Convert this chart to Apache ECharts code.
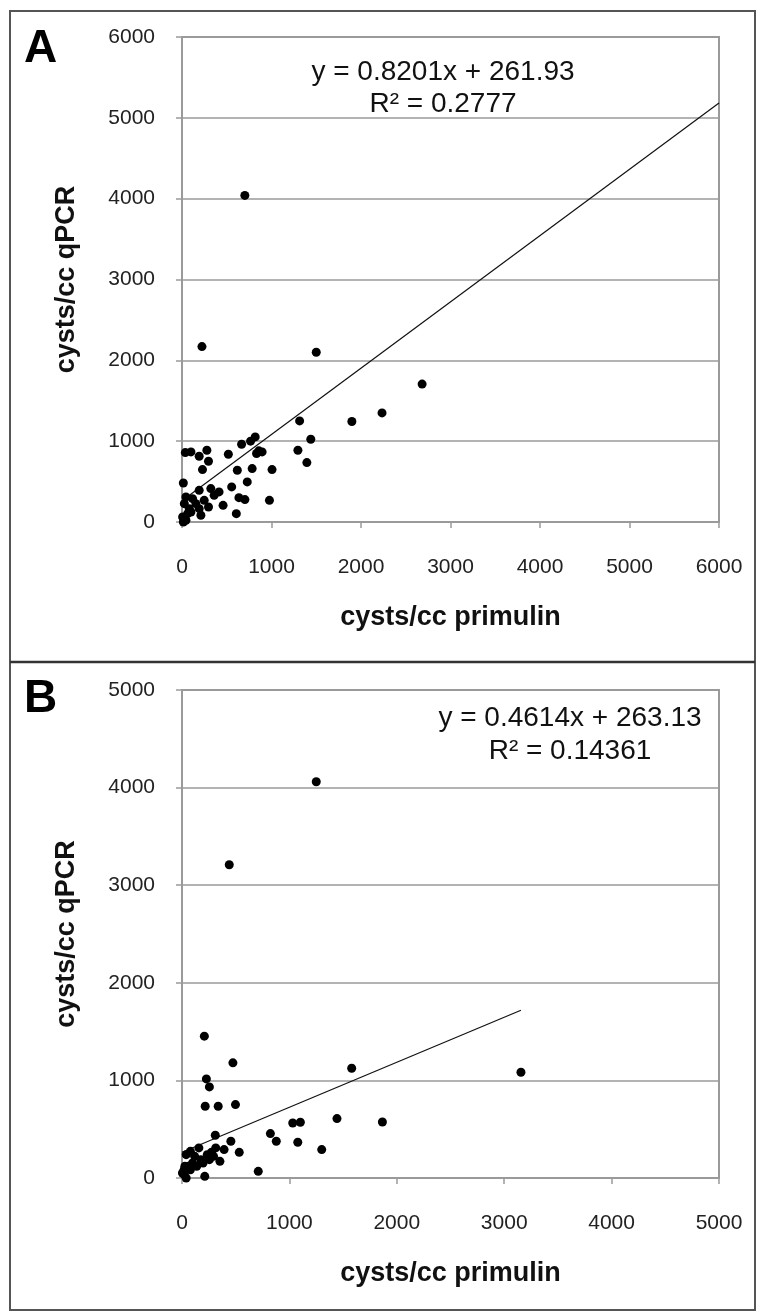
<!DOCTYPE html>
<html>
<head>
<meta charset="utf-8">
<script src="https://cdn.jsdelivr.net/npm/echarts@6/dist/echarts.min.js"></script>
<style>
html,body{margin:0;padding:0;background:#fff;}
#c{width:760px;height:1314px;}
</style>
</head>
<body>
<div id="c"></div>
<script>
// Panel A data (cysts/cc primulin, cysts/cc qPCR)
const panelA_x = [2683,2235,1898,1314,1439,1295,1395,1006,977,818,766,666,858,895,833,518,278,192,296,100,37,229,618,784,729,555,636,703,607,15,192,322,414,359,459,296,211,248,118,44,26,81,155,7,44,100,192,15,63,702,223,1500];
const panelA_y = [1706,1350,1243,1251,1024,888,735,648,268,1053,1000,962,880,867,847,838,888,814,752,867,859,648,640,661,496,434,301,277,103,483,392,413,372,330,206,186,83,268,289,310,227,165,227,62,21,124,165,0,103,4040,2170,2100];
// Panel B data
const panelB_x = [208,474,1580,3156,227,255,216,337,498,1443,1031,1102,1866,823,878,1078,1301,710,310,455,533,392,353,212,39,78,157,118,176,235,274,314,255,294,98,59,20,20,39,78,137,196,4,27,1250,440];
const panelB_y = [1453,1180,1125,1084,1015,933,735,735,752,609,564,571,574,455,376,366,291,68,438,376,263,291,171,17,239,273,308,222,188,239,263,308,188,222,154,120,85,34,0,85,120,154,51,120,4060,3210];
// Trend-line equations and labels
const trendA = {slope: 0.8201, intercept: 261.93, xStart: 0, xEnd: 6000};
const trendB = {slope: 0.4614, intercept: 263.13, xStart: 0, xEnd: 3156};
const eqA = ['y = 0.8201x + 261.93', 'R² = 0.2777'];
const eqB = ['y = 0.4614x + 263.13', 'R² = 0.14361'];
const axisA = {max: 6000, interval: 1000};
const axisB = {max: 5000, interval: 1000};
const xTitle = 'cysts/cc primulin';
const yTitle = 'cysts/cc qPCR';
const panelLabels = ['A', 'B'];

const pts = (xs, ys) => xs.map((v, i) => [v, ys[i]]);
const trend = t => [[t.xStart, t.slope * t.xStart + t.intercept], [t.xEnd, t.slope * t.xEnd + t.intercept]];

const FONT = 'Liberation Sans, Arial, sans-serif';
const GRAY = '#9a9a9a';

function xAx(idx, ax) {
  return {
    gridIndex: idx, type: 'value', min: 0, max: ax.max, interval: ax.interval,
    name: xTitle, nameLocation: 'middle', nameGap: 82,
    nameTextStyle: {fontFamily: FONT, fontSize: 27, fontWeight: 'bold', color: '#111'},
    axisLine: {show: true, onZero: false, lineStyle: {color: GRAY, width: 2}},
    axisTick: {show: true, length: 6, lineStyle: {color: GRAY, width: 1.5}},
    axisLabel: {fontFamily: FONT, fontSize: 21, color: '#222', margin: 35, formatter: v => String(v)},
    splitLine: {show: false}
  };
}
function yAx(idx, ax) {
  return {
    gridIndex: idx, type: 'value', min: 0, max: ax.max, interval: ax.interval,
    name: yTitle, nameLocation: 'middle', nameGap: 102, nameRotate: 90,
    nameTextStyle: {fontFamily: FONT, fontSize: 27, fontWeight: 'bold', color: '#111'},
    axisLine: {show: true, onZero: false, lineStyle: {color: GRAY, width: 2}},
    axisTick: {show: true, length: 6, lineStyle: {color: GRAY, width: 1.5}},
    axisLabel: {fontFamily: FONT, fontSize: 21, color: '#222', margin: 27, formatter: v => String(v)},
    splitLine: {show: true, lineStyle: {color: GRAY, width: 1.5}}
  };
}

const chart = echarts.init(document.getElementById('c'), null, {renderer: 'canvas'});
chart.setOption({
  backgroundColor: '#fff',
  animation: false,
  grid: [
    {left: 182, top: 37, width: 537, height: 485, show: true, borderColor: GRAY, borderWidth: 2, backgroundColor: '#fff'},
    {left: 182, top: 690, width: 537, height: 488, show: true, borderColor: GRAY, borderWidth: 2, backgroundColor: '#fff'}
  ],
  xAxis: [xAx(0, axisA), xAx(1, axisB)],
  yAxis: [yAx(0, axisA), yAx(1, axisB)],
  series: [
    {type: 'line', xAxisIndex: 0, yAxisIndex: 0, data: trend(trendA), symbol: 'none', lineStyle: {color: '#111', width: 1.2}, z: 3},
    {type: 'scatter', xAxisIndex: 0, yAxisIndex: 0, data: pts(panelA_x, panelA_y), symbolSize: 9, itemStyle: {color: '#000', opacity: 1}, z: 4},
    {type: 'line', xAxisIndex: 1, yAxisIndex: 1, data: trend(trendB), symbol: 'none', lineStyle: {color: '#111', width: 1.2}, z: 3},
    {type: 'scatter', xAxisIndex: 1, yAxisIndex: 1, data: pts(panelB_x, panelB_y), symbolSize: 9, itemStyle: {color: '#000', opacity: 1}, z: 4}
  ],
  graphic: [
    {type: 'rect', shape: {x: 10, y: 11, width: 745, height: 1299}, style: {fill: 'none', stroke: '#555', lineWidth: 2}, z: 10},
    {type: 'line', shape: {x1: 10, y1: 662, x2: 755, y2: 662}, style: {stroke: '#333', lineWidth: 2.5}, z: 10},
    {type: 'text', left: 24, top: 26, style: {text: panelLabels[0], font: 'bold 46px ' + FONT, fill: '#000'}, z: 10},
    {type: 'text', left: 24, top: 676, style: {text: panelLabels[1], font: 'bold 46px ' + FONT, fill: '#000'}, z: 10},
    {type: 'text', x: 443, y: 72, style: {text: eqA[0], font: '28px ' + FONT, fill: '#111', align: 'center', verticalAlign: 'middle'}, z: 10},
    {type: 'text', x: 443, y: 104, style: {text: eqA[1], font: '28px ' + FONT, fill: '#111', align: 'center', verticalAlign: 'middle'}, z: 10},
    {type: 'text', x: 570, y: 718, style: {text: eqB[0], font: '28px ' + FONT, fill: '#111', align: 'center', verticalAlign: 'middle'}, z: 10},
    {type: 'text', x: 570, y: 751, style: {text: eqB[1], font: '28px ' + FONT, fill: '#111', align: 'center', verticalAlign: 'middle'}, z: 10}
  ]
});
</script>
</body>
</html>
